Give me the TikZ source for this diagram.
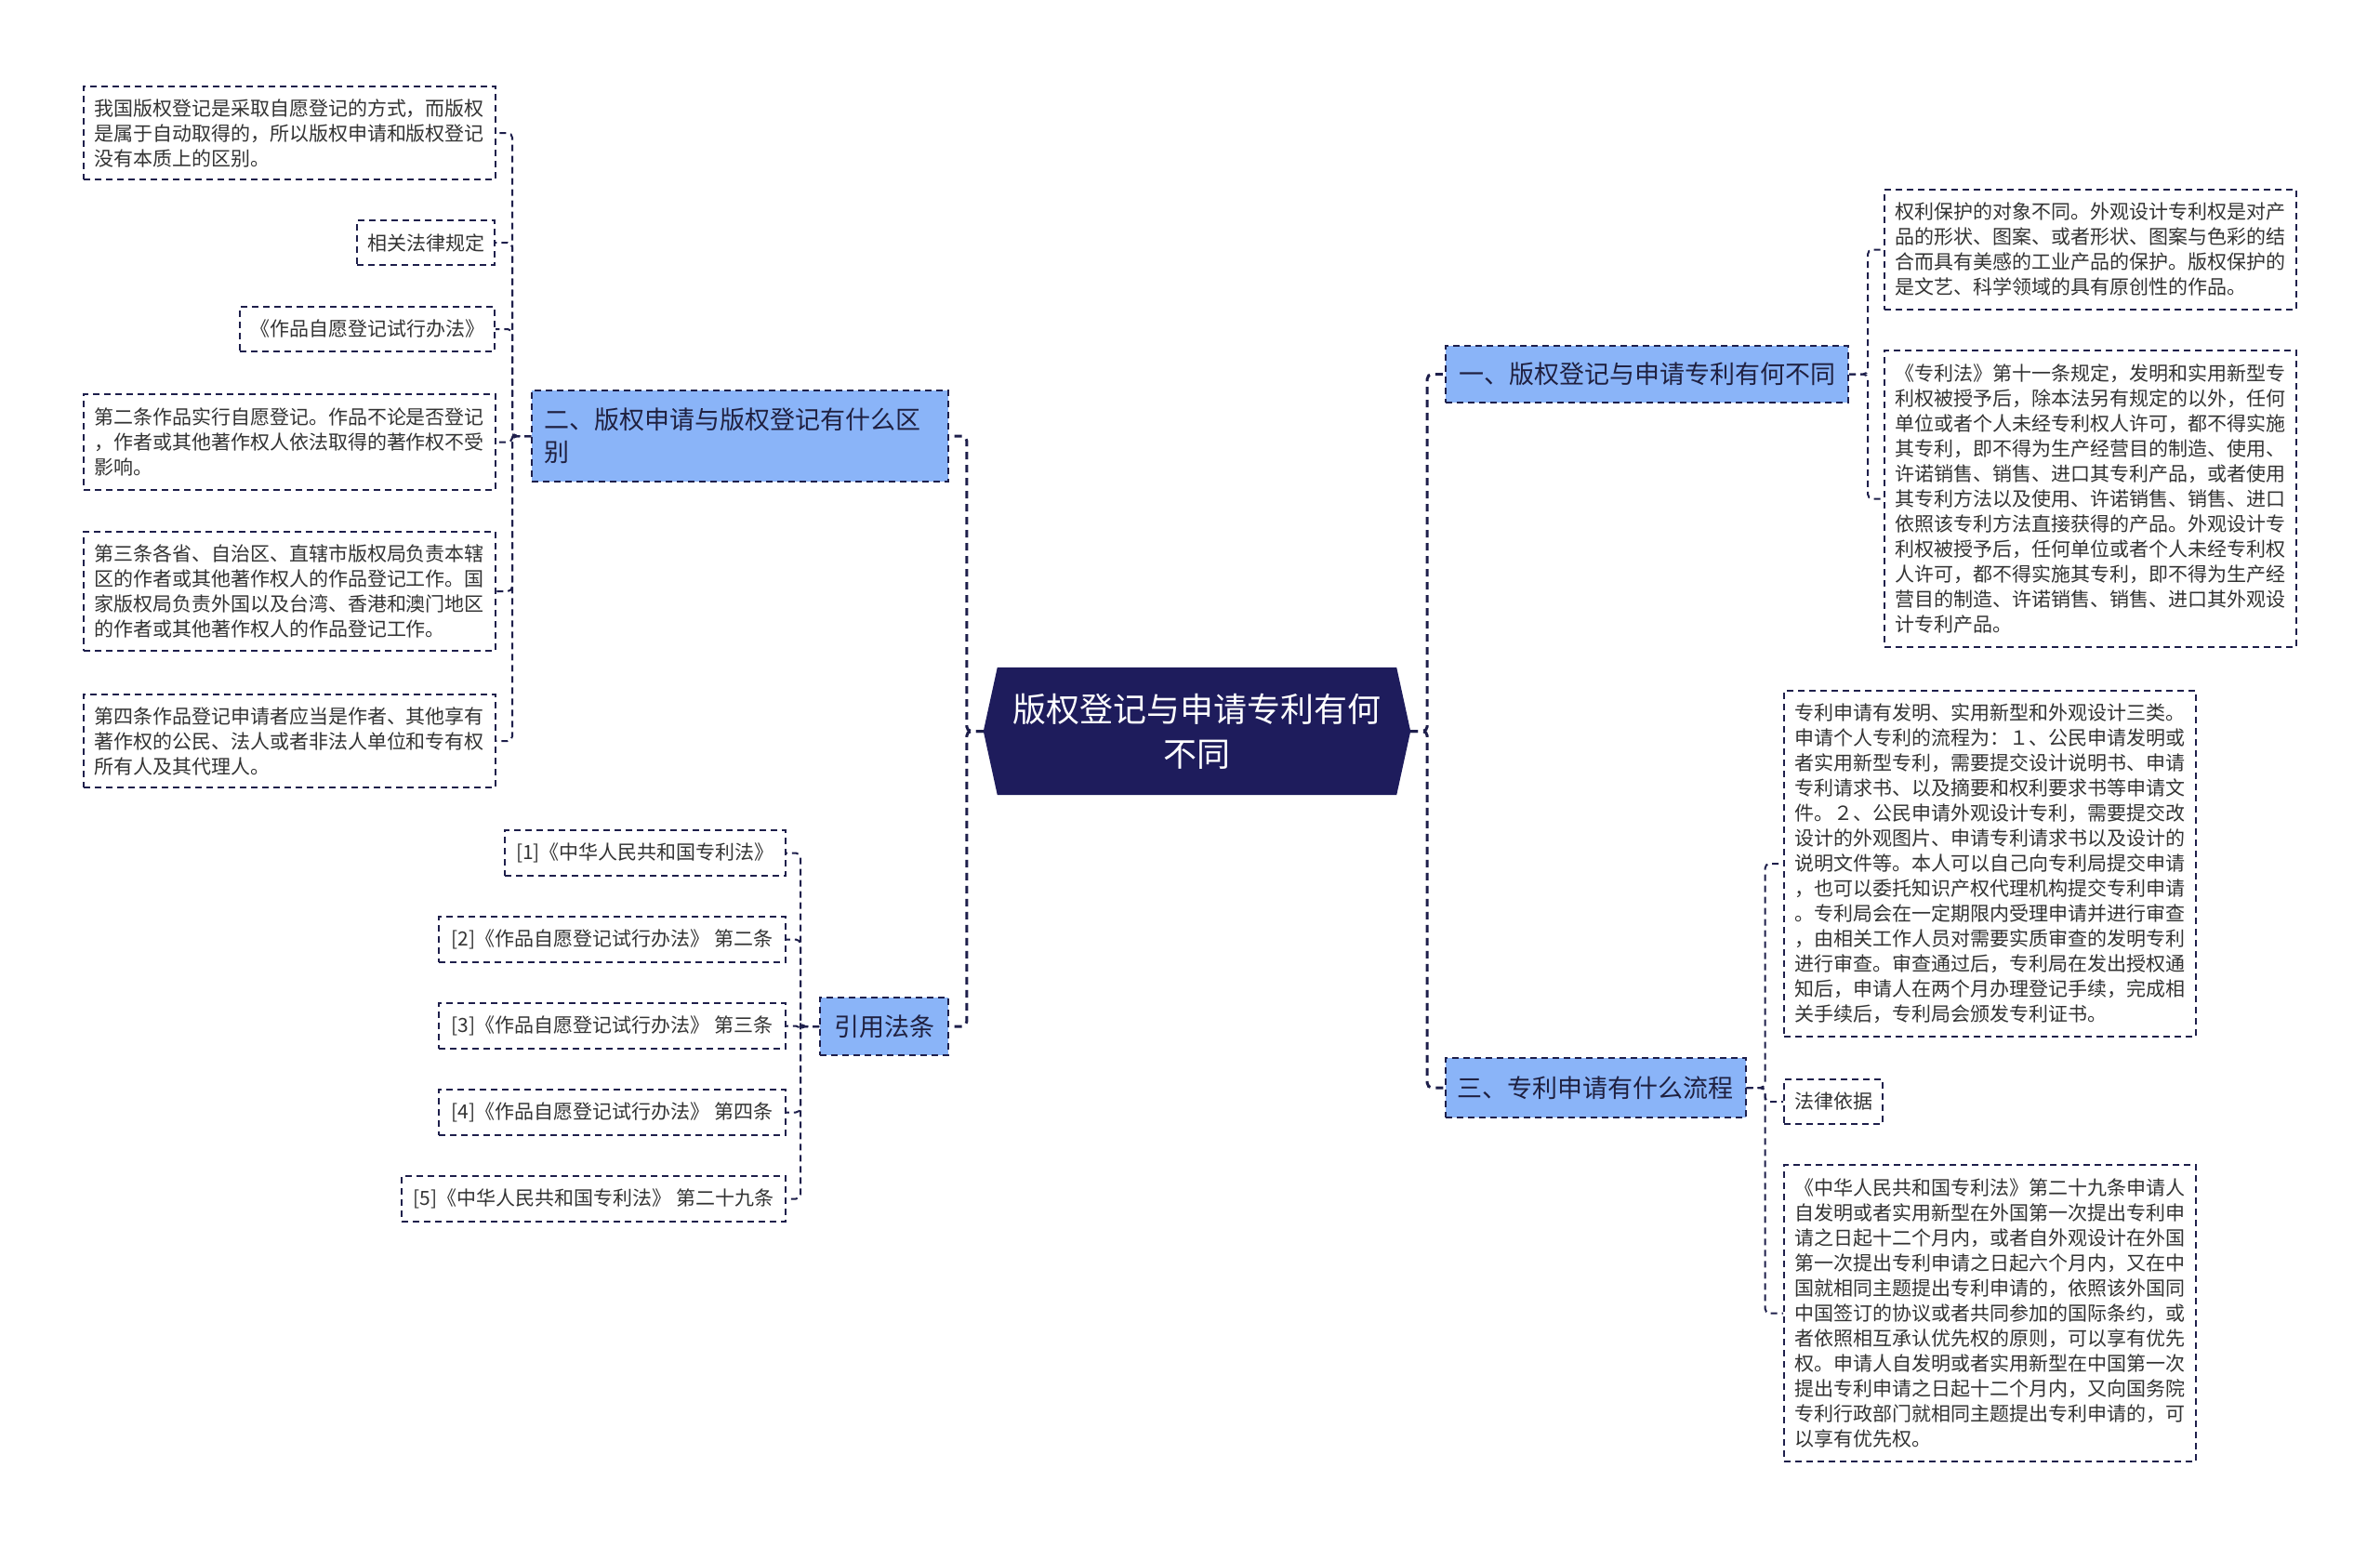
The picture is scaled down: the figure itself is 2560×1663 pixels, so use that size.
\documentclass[tikz,border=0pt]{standalone}
\usepackage{fontspec}
\setmainfont{Noto Sans CJK SC}
\usetikzlibrary{backgrounds}
\definecolor{lineC}{HTML}{1E1F4B}
\definecolor{ctrC}{HTML}{1E1C5C}
\definecolor{branchC}{HTML}{8AB4F8}
\definecolor{textC}{HTML}{333333}
\definecolor{btextC}{HTML}{1F2040}
\tikzset{
  leaf/.style={draw=lineC, line width=2pt, dash pattern=on 7pt off 5pt, fill=white, text=textC,
    font=\fontsize{21}{27}\selectfont, align=left, inner xsep=11pt, inner ysep=0pt},
  branch/.style={draw=lineC, line width=2pt, dash pattern=on 7pt off 5pt, fill=branchC, text=btextC,
    font=\fontsize{27}{35}\selectfont, inner xsep=13pt, inner ysep=0pt},
  link/.style={draw=lineC, line width=2pt, dash pattern=on 7pt off 5pt, rounded corners=5pt},
  trunk/.style={draw=lineC, line width=3pt, dash pattern=on 8pt off 6pt, rounded corners=5pt},
}
\begin{document}
\begin{tikzpicture}[x=1pt,y=-1pt]
\useasboundingbox (0,0) rectangle (2560,1663);

% central node
\node[text=white, font=\fontsize{36}{48}\selectfont, align=center, text width=420pt,
  minimum width=459pt, minimum height=137pt, inner sep=0pt] (ctr) at (1287.5,786.5)
  {版权登记与申请专利有何\\不同};
\begin{scope}[on background layer]
  \fill[white] (0,0) rectangle (2560,1663);
  \fill[ctrC] (ctr.west) -- ([xshift=15pt]ctr.north west) -- ([xshift=-15pt]ctr.north east)
    -- (ctr.east) -- ([xshift=-15pt]ctr.south east) -- ([xshift=15pt]ctr.south west) -- cycle;
\end{scope}

% left branch 二
\node[branch, align=left, text width=422pt, minimum height=98pt] (b2) at (796,469)
  {二、版权申请与版权登记有什么区\\别};
\node[leaf, text width=421pt, minimum height=100pt] (l1) at (311.5,143)
  {我国版权登记是采取自愿登记的方式，而版权\\是属于自动取得的，所以版权申请和版权登记\\没有本质上的区别。};
\node[leaf, anchor=east, minimum height=48pt] (l2) at (533,261) {相关法律规定};
\node[leaf, anchor=east, minimum height=48pt] (l3) at (533,354) {《作品自愿登记试行办法》};
\node[leaf, text width=421pt, minimum height=103pt] (l4) at (311.5,475.5)
  {第二条作品实行自愿登记。作品不论是否登记\\，作者或其他著作权人依法取得的著作权不受\\影响。};
\node[leaf, text width=421pt, minimum height=128pt] (l5) at (311.5,636)
  {第三条各省、自治区、直辖市版权局负责本辖\\区的作者或其他著作权人的作品登记工作。国\\家版权局负责外国以及台湾、香港和澳门地区\\的作者或其他著作权人的作品登记工作。};
\node[leaf, text width=421pt, minimum height=100pt] (l6) at (311.5,797)
  {第四条作品登记申请者应当是作者、其他享有\\著作权的公民、法人或者非法人单位和专有权\\所有人及其代理人。};

% left branch 引用法条
\node[branch, minimum width=138pt, minimum height=62pt] (b4) at (951,1104) {引用法条};
\node[leaf, anchor=east, minimum width=302pt, minimum height=49pt] (c1) at (846,917.5) {[1]《中华人民共和国专利法》};
\node[leaf, anchor=east, minimum width=373pt, minimum height=49pt] (c2) at (846,1010.5) {[2]《作品自愿登记试行办法》 第二条};
\node[leaf, anchor=east, minimum width=373pt, minimum height=49pt] (c3) at (846,1103.5) {[3]《作品自愿登记试行办法》 第三条};
\node[leaf, anchor=east, minimum width=373pt, minimum height=49pt] (c4) at (846,1196.5) {[4]《作品自愿登记试行办法》 第四条};
\node[leaf, anchor=east, minimum width=413pt, minimum height=49pt] (c5) at (846,1289.5) {[5]《中华人民共和国专利法》 第二十九条};

% right branch 一
\node[branch, minimum width=433pt, minimum height=61pt] (b1) at (1771.5,402.5) {一、版权登记与申请专利有何不同};
\node[leaf, text width=421pt, minimum height=129pt] (r1) at (2248.5,268.5)
  {权利保护的对象不同。外观设计专利权是对产\\品的形状、图案、或者形状、图案与色彩的结\\合而具有美感的工业产品的保护。版权保护的\\是文艺、科学领域的具有原创性的作品。};
\node[leaf, text width=421pt, minimum height=319pt] (r2) at (2248.5,536.5)
  {《专利法》第十一条规定，发明和实用新型专\\利权被授予后，除本法另有规定的以外，任何\\单位或者个人未经专利权人许可，都不得实施\\其专利，即不得为生产经营目的制造、使用、\\许诺销售、销售、进口其专利产品，或者使用\\其专利方法以及使用、许诺销售、销售、进口\\依照该专利方法直接获得的产品。外观设计专\\利权被授予后，任何单位或者个人未经专利权\\人许可，都不得实施其专利，即不得为生产经\\营目的制造、许诺销售、销售、进口其外观设\\计专利产品。};

% right branch 三
\node[branch, minimum width=322pt, minimum height=64pt] (b3) at (1716,1170) {三、专利申请有什么流程};
\node[leaf, text width=421pt, minimum height=372pt] (r3) at (2140.5,929)
  {专利申请有发明、实用新型和外观设计三类。\\申请个人专利的流程为：１、公民申请发明或\\者实用新型专利，需要提交设计说明书、申请\\专利请求书、以及摘要和权利要求书等申请文\\件。２、公民申请外观设计专利，需要提交改\\设计的外观图片、申请专利请求书以及设计的\\说明文件等。本人可以自己向专利局提交申请\\，也可以委托知识产权代理机构提交专利申请\\。专利局会在一定期限内受理申请并进行审查\\，由相关工作人员对需要实质审查的发明专利\\进行审查。审查通过后，专利局在发出授权通\\知后，申请人在两个月办理登记手续，完成相\\关手续后，专利局会颁发专利证书。};
\node[leaf, anchor=west, minimum height=48pt] (r4) at (1918,1185) {法律依据};
\node[leaf, text width=421pt, minimum height=319pt] (r5) at (2140.5,1412.5)
  {《中华人民共和国专利法》第二十九条申请人\\自发明或者实用新型在外国第一次提出专利申\\请之日起十二个月内，或者自外观设计在外国\\第一次提出专利申请之日起六个月内，又在中\\国就相同主题提出专利申请的，依照该外国同\\中国签订的协议或者共同参加的国际条约，或\\者依照相互承认优先权的原则，可以享有优先\\权。申请人自发明或者实用新型在中国第一次\\提出专利申请之日起十二个月内，又向国务院\\专利行政部门就相同主题提出专利申请的，可\\以享有优先权。};

% connectors
\draw[trunk] (ctr.west) -- ++(-18,0) |- (b2.east);
\draw[trunk] (ctr.west) -- ++(-18,0) |- (b4.east);
\draw[trunk] (ctr.east) -- ++(18,0) |- (b1.west);
\draw[trunk] (ctr.east) -- ++(18,0) |- (b3.west);
\foreach \n in {l1,l2,l3,l4,l5,l6} \draw[link] (b2.west) -- ++(-20,0) |- (\n.east);
\foreach \n in {c1,c2,c3,c4,c5} \draw[link] (b4.west) -- ++(-20,0) |- (\n.east);
\foreach \n in {r1,r2} \draw[link] (b1.east) -- ++(20,0) |- (\n.west);
\foreach \n in {r3,r4,r5} \draw[link] (b3.east) -- ++(20,0) |- (\n.west);
\end{tikzpicture}
\end{document}
